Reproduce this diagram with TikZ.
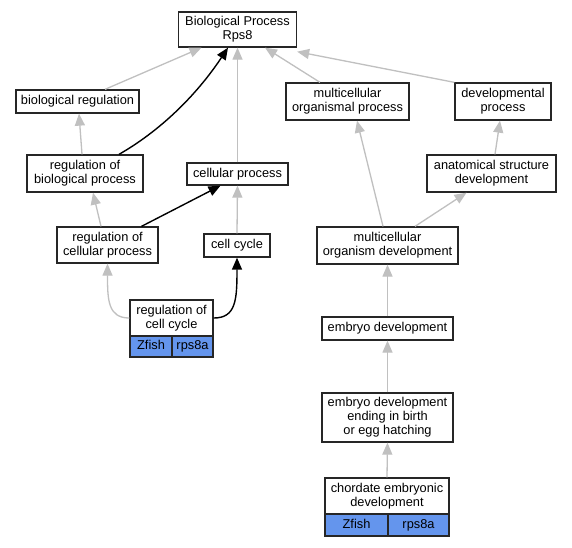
\documentclass[tikz,border=0pt]{standalone}
\usepackage{fontspec}
\setmainfont{Liberation Sans}
\usetikzlibrary{arrows.meta}
\definecolor{edgegray}{HTML}{C0C0C0}
\definecolor{cellblue}{HTML}{6495ED}
\tikzset{
  x=1pt, y=-1pt,
  gobox/.style={draw=black!85, line width=1.3pt, fill=white, rectangle, inner sep=0pt, align=center,
    font=\fontsize{12.8}{14}\selectfont},
  onebox/.style={gobox, text height=9.5pt, text depth=2.7pt},
  bluecell/.style={onebox, fill=cellblue},
  gedge/.style={draw=edgegray, line width=1.3pt, -{Triangle[length=12pt,width=10pt]}},
  bedge/.style={draw=black, line width=1.4pt, -{Triangle[length=12pt,width=10pt]}},
}
\begin{document}
\begin{tikzpicture}
\useasboundingbox (0,0) rectangle (572,547);
\fill[white] (0,0) rectangle (572,547);
% nodes
\node[gobox, minimum width=118pt, minimum height=35pt] (bp) at (237.5,29.5) {Biological Process\\Rps8};
\node[onebox, minimum width=123pt, minimum height=23pt] (breg) at (77.5,101.5) {biological regulation};
\node[gobox, minimum width=123pt, minimum height=37pt] (mop) at (347.5,101.5) {multicellular\\organismal process};
\node[gobox, minimum width=96pt, minimum height=37pt] (dp) at (503,101.5) {developmental\\process};
\node[gobox, minimum width=116pt, minimum height=37pt] (rbp) at (85,173.5) {regulation of\\biological process};
\node[onebox, minimum width=101pt, minimum height=22pt] (cp) at (237.5,174) {cellular process};
\node[gobox, minimum width=129pt, minimum height=37pt] (asd) at (491.5,173.5) {anatomical structure\\development};
\node[gobox, minimum width=101pt, minimum height=36pt] (rcp) at (107.5,245) {regulation of\\cellular process};
\node[onebox, minimum width=66pt, minimum height=23pt] (cc) at (237,245.5) {cell cycle};
\node[gobox, minimum width=141pt, minimum height=37pt] (mod) at (387.5,245.5) {multicellular\\organism development};
\node[gobox, minimum width=83pt, minimum height=36pt] (rcc) at (171.5,318) {regulation of\\cell cycle};
\node[bluecell, minimum width=42pt, minimum height=21pt] (rccA) at (151,346.5) {Zfish};
\node[bluecell, minimum width=41pt, minimum height=21pt] (rccB) at (192.5,346.5) {rps8a};
\node[onebox, minimum width=131pt, minimum height=23pt] (ed) at (387.5,328.5) {embryo development};
\node[gobox, minimum width=131pt, minimum height=49pt] (edb) at (387.5,417.5) {embryo development\\ending in birth\\or egg hatching};
\node[gobox, minimum width=124pt, minimum height=36pt] (ced) at (387,496) {chordate embryonic\\development};
\node[bluecell, minimum width=63pt, minimum height=22pt] (cedA) at (356.5,525) {Zfish};
\node[bluecell, minimum width=61pt, minimum height=22pt] (cedB) at (418.5,525) {rps8a};
% edges
\draw[gedge] ([xshift=27.5pt]breg.north) -- ([xshift=-36pt]bp.south);
\draw[bedge] ([xshift=34pt]rbp.north) .. controls (165,128) and (200,90) .. ([xshift=-9.5pt]bp.south);
\draw[gedge] (cp.north) -- (bp.south);
\draw[gedge] ([xshift=-27.5pt]mop.north) -- ([xshift=27.5pt]bp.south);
\draw[gedge] (dp.north west) -- ([yshift=-4pt]bp.south east);
\draw[gedge] ([xshift=-3pt]rbp.north) -- ([xshift=1.5pt]breg.south);
\draw[gedge] ([xshift=-6.5pt]rcp.north) -- ([xshift=8pt]rbp.south);
\draw[bedge] ([xshift=34pt]rcp.north) -- ([xshift=-17pt]cp.south);
\draw[gedge] (cc.north) -- (cp.south);
\draw[gedge] ([xshift=-4.5pt]mod.north) -- ([xshift=9.5pt]mop.south);
\draw[gedge] ([xshift=27.5pt]mod.north) -- ([xshift=-25pt]asd.south);
\draw[gedge] ([xshift=3.5pt]asd.north) -- ([xshift=-3pt]dp.south);
\draw[gedge] (ed.north) -- (mod.south);
\draw[gedge] (edb.north) -- (ed.south);
\draw[gedge] (ced.north) -- (edb.south);
\draw[gedge] (rcc.west) .. controls (108,318) and (107.5,300) .. (rcp.south);
\draw[bedge] (rcc.east) .. controls (236,318) and (237,300) .. (cc.south);
\end{tikzpicture}
\end{document}
